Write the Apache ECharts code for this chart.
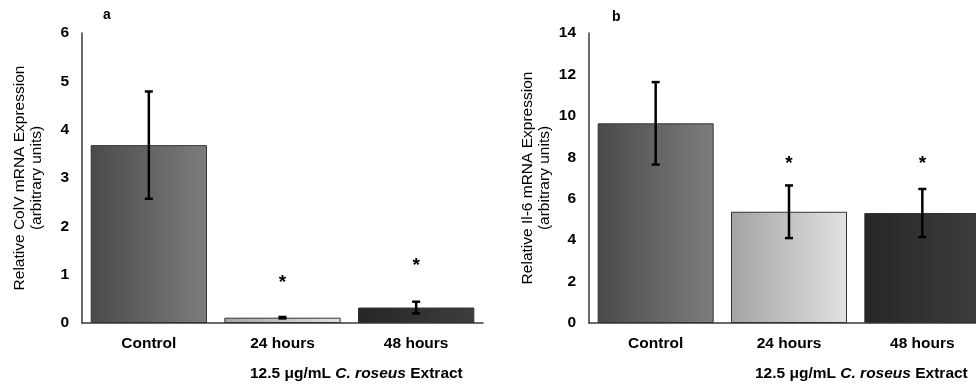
<!DOCTYPE html>
<html>
<head>
<meta charset="utf-8">
<script src="https://cdn.jsdelivr.net/npm/echarts@6/dist/echarts.min.js"></script>
<style>
html,body{margin:0;padding:0;background:#fff;overflow:hidden;width:976px;height:389px;}
#chart{width:989px;height:389px;}
</style>
</head>
<body>
<div id="chart"></div>
<script>
// ---- data ----
const categories = ['Control', '24 hours', '48 hours'];
const colvMean = [3.68, 0.11, 0.32];
const colvErr = [1.11, 0.015, 0.12];
const colvStar = [null, 0.91, 1.26];
const il6Mean = [9.64, 5.37, 5.31];
const il6Err = [1.99, 1.27, 1.16];
const il6Star = [null, 7.87, 7.87];
const colvMax = 6, colvInterval = 1;
const il6Max = 14, il6Interval = 2;
const panelLetters = ['a', 'b'];
const yNames = ['Relative ColV mRNA Expression\n(arbitrary units)', 'Relative Il-6 mRNA Expression\n(arbitrary units)'];

// ---- styles ----
const FONT = '"Liberation Sans", Arial, sans-serif';
const gradStops = [['#4a4a4a', '#7d7d7d'], ['#a3a3a3', '#e2e2e2'], ['#262626', '#3d3d3d']];
function grad(i) {
  return new echarts.graphic.LinearGradient(0, 0, 1, 0, [
    { offset: 0, color: gradStops[i][0] },
    { offset: 1, color: gradStops[i][1] }
  ]);
}
function barData(vals) {
  return vals.map((v, i) => ({ value: v, itemStyle: { color: grad(i) } }));
}
function errData(mean, err) { return mean.map((m, i) => [i, m, err[i]]); }
function starData(stars) { return stars.map((s, i) => s == null ? null : [i, s]).filter(d => d); }

function errRender(params, api) {
  const x = api.value(0), m = api.value(1), e = api.value(2);
  const top = api.coord([x, m + e]);
  const bot = api.coord([x, m - e]);
  const hw = 4;
  const st = { stroke: '#000', lineWidth: 2.5 };
  return {
    type: 'group', children: [
      { type: 'line', shape: { x1: top[0], y1: top[1], x2: bot[0], y2: bot[1] }, style: st },
      { type: 'line', shape: { x1: top[0] - hw, y1: top[1], x2: top[0] + hw, y2: top[1] }, style: st },
      { type: 'line', shape: { x1: bot[0] - hw, y1: bot[1], x2: bot[0] + hw, y2: bot[1] }, style: st }
    ]
  };
}
function starRender(params, api) {
  const p = api.coord([api.value(0), api.value(1)]);
  return {
    type: 'text',
    style: { text: '*', x: p[0], y: p[1] + 4, align: 'center', verticalAlign: 'middle',
      font: 'bold 19px ' + FONT, fill: '#000' }
  };
}

const axisLine = { show: true, lineStyle: { color: '#3a3a3a', width: 1.5 } };
function xAxis(idx) {
  return {
    type: 'category', gridIndex: idx, data: categories,
    axisLine: axisLine, axisTick: { show: false },
    axisLabel: { color: '#000', fontWeight: 'bold', fontSize: 15.5, fontFamily: FONT, margin: 13 }
  };
}
function yAxis(idx, max, interval, gap) {
  return {
    type: 'value', gridIndex: idx, min: 0, max: max, interval: interval,
    axisLine: axisLine, axisTick: { show: false }, splitLine: { show: false },
    axisLabel: { color: '#000', fontWeight: 'bold', fontSize: 15.5, fontFamily: FONT, margin: 13 },
    name: yNames[idx], nameLocation: 'middle', nameGap: gap, nameRotate: 90,
    nameTextStyle: { color: '#000', fontSize: 15.5, fontFamily: FONT, lineHeight: 17 }
  };
}
function subtitle(cx) {
  return {
    type: 'text', left: cx - 109, top: 366,
    style: {
      text: '{b|12.5 μg/mL }{i|C. roseus}{b| Extract}',
      rich: {
        b: { fontWeight: 'bold', fontSize: 15.5, fontFamily: FONT, fill: '#000' },
        i: { fontWeight: 'bold', fontStyle: 'italic', fontSize: 15.5, fontFamily: FONT, fill: '#000' }
      }
    }
  };
}

const chart = echarts.init(document.getElementById('chart'), null, { renderer: 'canvas' });
chart.setOption({
  animation: false,
  backgroundColor: '#fff',
  grid: [
    { left: 82, top: 33, width: 401, height: 290 },
    { left: 589, top: 33, width: 400, height: 290 }
  ],
  xAxis: [xAxis(0), xAxis(1)],
  yAxis: [yAxis(0, colvMax, colvInterval, 37), yAxis(1, il6Max, il6Interval, 36)],
  series: [
    { type: 'bar', xAxisIndex: 0, yAxisIndex: 0, data: barData(colvMean), barCategoryGap: '13%',
      itemStyle: { borderColor: '#333', borderWidth: 1 } },
    { type: 'bar', xAxisIndex: 1, yAxisIndex: 1, data: barData(il6Mean), barCategoryGap: '13%',
      itemStyle: { borderColor: '#333', borderWidth: 1 } },
    { type: 'custom', xAxisIndex: 0, yAxisIndex: 0, data: errData(colvMean, colvErr), renderItem: errRender, z: 5 },
    { type: 'custom', xAxisIndex: 1, yAxisIndex: 1, data: errData(il6Mean, il6Err), renderItem: errRender, z: 5 },
    { type: 'custom', xAxisIndex: 0, yAxisIndex: 0, data: starData(colvStar), renderItem: starRender, z: 5 },
    { type: 'custom', xAxisIndex: 1, yAxisIndex: 1, data: starData(il6Star), renderItem: starRender, z: 5 }
  ],
  graphic: [
    { type: 'text', left: 103, top: 8, style: { text: panelLetters[0], font: 'bold 14px ' + FONT, fill: '#000' } },
    { type: 'text', left: 612, top: 10, style: { text: panelLetters[1], font: 'bold 14px ' + FONT, fill: '#000' } },
    subtitle(359),
    subtitle(864)
  ]
});
</script>
</body>
</html>
